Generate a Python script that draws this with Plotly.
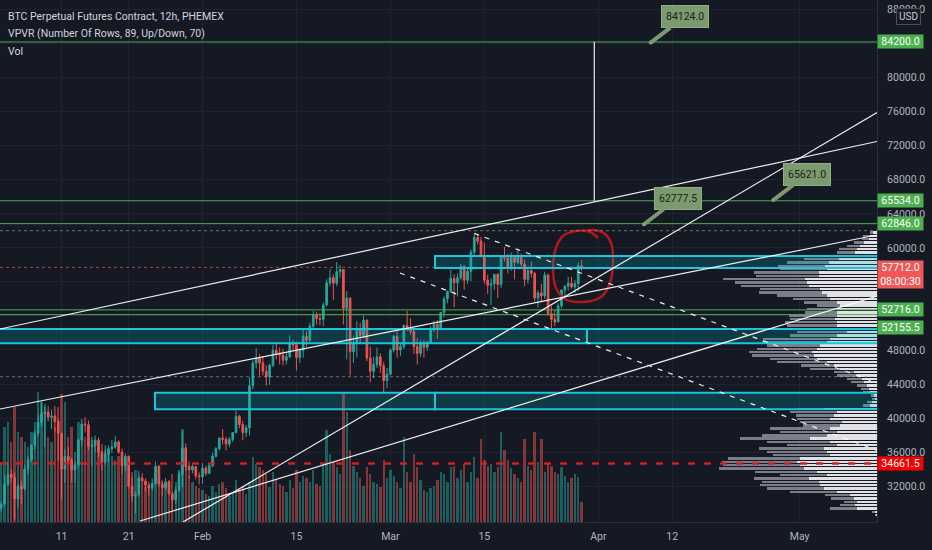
import pandas as pd
import plotly.graph_objects as go

# BTC perpetual (PHEMEX), 12h candles, 2 Jan 2021 00:00 -> 29 Mar 2021 12:00
# one line = one week (two candles per day)
opens = [
    29400, 29900, 32200, 33400, 33000, 30500, 32000, 31700, 34000, 35100, 36800, 38200, 39500, 40500,
    40700, 40100, 40250, 39600, 38200, 34000, 35500, 35000, 33900, 34500, 37400, 39300, 39200, 36700,
    36800, 37400, 36000, 34800, 35800, 36400, 36600, 37200, 36000, 34400, 35500, 32000, 30850, 31000,
    32950, 32600, 32100, 31800, 32300, 34300, 32250, 31800, 32500, 31100, 30400, 31500, 33400, 36500,
    34300, 33900, 34300, 33200, 33100, 34100, 33500, 34400, 35500, 36400, 37650, 37500, 36950, 37500,
    38300, 40200, 39250, 38300, 38850, 43800, 46450, 47100, 46500, 45500, 44850, 46200, 47950, 47600,
    47400, 46800, 47200, 48800, 48600, 47100, 47950, 49600, 49150, 50800, 52150, 51700, 51600, 53300,
    55900, 56500, 55850, 57200, 57450, 52900, 54100, 47800, 48850, 50500, 49700, 51500, 47050, 45500,
    46300, 47200, 46150, 44400, 45150, 48000, 49600, 48000, 48400, 50900, 50500, 50200, 48400, 47600,
    48800, 48300, 48900, 50400, 51000, 50600, 52400, 54000, 54900, 56400, 55900, 56500, 57800, 56200,
    57250, 59500, 61200, 60800, 59000, 56200, 55600, 55800, 56900, 55700, 58900, 58800, 57650, 58900,
    58300, 59000, 58100, 56300, 57350, 57000, 54100, 54700, 54350, 56800, 52300, 51600, 51300, 53200,
    55050, 55500, 55850, 55400, 55800, 57900,
]
highs = [
    30200, 33300, 34800, 34000, 33600, 32300, 32600, 34500, 35500, 36900, 38500, 40400, 41950, 41300,
    41400, 41000, 41400, 39900, 38200, 36300, 36600, 35300, 34900, 37600, 39900, 40100, 39700, 37800,
    37950, 37700, 36200, 36800, 36800, 37400, 37850, 37400, 36400, 35800, 35600, 33100, 31400, 33800,
    33500, 32900, 32500, 32900, 34900, 34500, 32700, 32950, 32600, 31300, 31900, 33800, 38500, 37000,
    34900, 34700, 34300, 33600, 34700, 34400, 34600, 35900, 36600, 37700, 38700, 37800, 37800, 38300,
    40900, 40400, 39700, 39200, 44800, 46800, 48200, 47500, 47300, 46200, 46400, 48600, 48900, 48300,
    48150, 47700, 49700, 49200, 49000, 48200, 50600, 50200, 51200, 52600, 52500, 52300, 53600, 56300,
    57500, 56900, 58350, 58000, 57500, 54900, 54200, 49600, 51400, 51200, 52050, 51600, 48400, 47200,
    48300, 47600, 46600, 45900, 48200, 49750, 50200, 48800, 51000, 52600, 51750, 50500, 49400, 49200,
    49200, 49100, 50800, 51400, 51500, 52400, 54300, 54900, 57400, 56900, 57000, 58100, 58000, 57600,
    59800, 61700, 61600, 61300, 60600, 56800, 56400, 56900, 57000, 58950, 60100, 59300, 59450, 59100,
    59900, 59300, 58600, 57800, 58400, 57200, 55000, 55800, 57200, 57000, 53200, 52700, 53500, 55100,
    55600, 56600, 56600, 56200, 58300, 58580,
]
lows = [
    29000, 29700, 32000, 32400, 28100, 29500, 29900, 31500, 33400, 34800, 36300, 37800, 39000, 36600,
    39600, 38700, 38400, 35000, 30400, 32400, 34500, 32500, 32400, 34200, 36700, 38300, 36200, 34400,
    36000, 35400, 33850, 34500, 34800, 35900, 36400, 35800, 33400, 33800, 31700, 30100, 28800, 30700,
    32200, 31400, 30900, 31500, 32100, 31900, 30850, 31500, 30900, 29250, 29900, 31300, 31900, 33800,
    32900, 33500, 32800, 32200, 32300, 33200, 33400, 34200, 35400, 36200, 36900, 36200, 36600, 37200,
    38200, 38800, 37400, 37800, 37950, 43400, 45800, 45000, 45000, 43800, 43900, 46000, 46900, 46300,
    46200, 46300, 47050, 47900, 45600, 46500, 47100, 48400, 48950, 50500, 51000, 50900, 50800, 53100,
    55500, 53900, 55500, 56500, 51000, 46900, 45000, 46500, 47100, 48700, 49400, 46700, 44200, 44700,
    45900, 45300, 43000, 43500, 45000, 47700, 47050, 47300, 48100, 50200, 49800, 47550, 46300, 47200,
    47100, 47900, 48900, 50100, 49300, 50300, 51850, 53500, 54700, 53050, 54300, 56200, 55100, 55800,
    56100, 59200, 60400, 59000, 55800, 54600, 53300, 55100, 54100, 55300, 58400, 57000, 57300, 56300,
    58100, 57800, 55500, 55800, 56500, 53700, 53000, 53600, 54000, 52000, 50400, 50800, 51300, 52900,
    53950, 55000, 55200, 54700, 54900, 57300,
]
closes = [
    29900, 32200, 33400, 33000, 30500, 32000, 31700, 34000, 35100, 36800, 38200, 39500, 40500, 40700,
    40100, 40250, 39600, 38200, 34000, 35500, 35000, 33900, 34500, 37400, 39300, 39200, 36700, 36800,
    37400, 36000, 34800, 35800, 36400, 36600, 37200, 36000, 34400, 35500, 32000, 30850, 31000, 32950,
    32600, 32100, 31800, 32300, 34300, 32250, 31800, 32500, 31100, 30400, 31500, 33400, 36500, 34300,
    33900, 34300, 33200, 33100, 34100, 33500, 34400, 35500, 36400, 37650, 37500, 36950, 37500, 38300,
    40200, 39250, 38300, 38850, 43800, 46450, 47100, 46500, 45500, 44850, 46200, 47950, 47600, 47400,
    46800, 47200, 48800, 48600, 47100, 47950, 49600, 49150, 50800, 52150, 51700, 51600, 53300, 55900,
    56500, 55850, 57200, 57450, 52900, 54100, 47800, 48850, 50500, 49700, 51500, 47050, 45500, 46300,
    47200, 46150, 44400, 45150, 48000, 49600, 48000, 48400, 50900, 50500, 50200, 48400, 47600, 48800,
    48300, 48900, 50400, 51000, 50600, 52400, 54000, 54900, 56400, 55900, 56500, 57800, 56200, 57250,
    59500, 61200, 60800, 59000, 56200, 55600, 55800, 56900, 55700, 58900, 58800, 57650, 58900, 58300,
    59000, 58100, 56300, 57350, 57000, 54100, 54700, 54350, 56800, 52300, 51600, 51300, 53200, 55050,
    55500, 55850, 55400, 55800, 57900, 57712,
]
volumes = [
    60, 95, 100, 80, 115, 90, 85, 80, 75, 90, 100, 130, 120, 118,
    85, 80, 95, 115, 128, 120, 85, 95, 70, 100, 98, 85, 80, 82,
    80, 75, 78, 72, 70, 66, 62, 66, 65, 58, 55, 50, 52, 46,
    38, 35, 36, 38, 48, 42, 40, 38, 42, 48, 40, 52, 93, 62,
    46, 40, 36, 34, 32, 28, 26, 36, 30, 38, 40, 34, 26, 30,
    42, 32, 36, 28, 40, 65, 58, 55, 52, 48, 35, 50, 42, 38,
    36, 30, 42, 34, 52, 40, 46, 44, 40, 52, 38, 36, 58, 92,
    68, 60, 55, 48, 130, 110, 72, 56, 50, 44, 36, 55, 48, 40,
    38, 35, 62, 44, 52, 46, 40, 34, 85, 50, 40, 68, 55, 42,
    32, 30, 34, 36, 42, 50, 48, 40, 55, 56, 44, 52, 58, 40,
    50, 65, 44, 83, 62, 56, 58, 50, 55, 90, 72, 62, 54, 48,
    44, 40, 83, 56, 52, 90, 60, 83, 50, 58, 56, 50, 48, 55,
    46, 40, 44, 48, 45, 20,
]

# VPVR rows, top row first (white = up part, gray = down part)
vp_up = [
    4, 7, 8, 13, 17, 20, 22, 33, 38, 48,
    52, 50, 58, 58, 72, 70, 68, 57, 55, 50,
    47, 40, 37, 40, 40, 40, 42, 40, 40, 30,
    30, 40, 47, 50, 57, 60, 65, 63, 60, 50,
    43, 37, 23, 20, 15, 13, 10, 8, 7, 3,
    2, 5, 7, 53, 40, 43, 47, 35, 37, 47,
    40, 50, 67, 47, 40, 53, 50, 47, 77, 80,
    77, 73, 60, 50, 68, 58, 57, 53, 40, 27,
    23, 20, 22, 20, 2, 1,
]
vp_down = [
    3, 7, 7, 10, 13, 18, 18, 27, 35, 42,
    47, 47, 65, 63, 82, 72, 68, 60, 63, 50,
    37, 33, 23, 30, 32, 48, 45, 52, 50, 33,
    50, 47, 67, 65, 53, 60, 63, 62, 47, 50,
    33, 30, 20, 20, 15, 13, 10, 8, 7, 3,
    3, 5, 7, 27, 47, 38, 33, 42, 37, 60,
    57, 65, 70, 63, 50, 65, 60, 57, 72, 75,
    77, 85, 62, 47, 55, 57, 60, 57, 47, 25,
    23, 13, 15, 27, 3, 1,
]
vp_high = 62000
vp_low = 28400

green_levels = [84200.0, 65534.0, 62846.0, 52716.0, 52155.5]
last_price = 57712.0
countdown = "08:00:30"
support_level = 34661.5
dotted_levels = [62018, 44860]

price_ticks = [32000, 36000, 40000, 44000, 48000, 52000, 56000, 60000,
               64000, 68000, 72000, 76000, 80000, 84000, 88000]
hidden_ticks = [52000, 56000, 84000]  # covered by the price badges

x_ticks = ["2021-01-11", "2021-01-21", "2021-02-01", "2021-02-15", "2021-03-01",
           "2021-03-15", "2021-04-01", "2021-04-12", "2021-05-01"]
x_labels = ["11", "21", "Feb", "15", "Mar", "15", "Apr", "12", "May"]

callout_t = ["2021-04-08 19:10", "2021-04-07 19:10", "2021-04-27 01:40"]
callout_p = [84124.0, 62777.5, 65621.0]

circle_t = ["2021-03-31 22:30", "2021-03-30 18:00", "2021-03-28 15:50", "2021-03-26 17:30",
            "2021-03-25 16:20", "2021-03-25 05:40", "2021-03-25 16:20", "2021-03-27 00:30",
            "2021-03-29 17:00", "2021-04-01 09:20", "2021-04-02 17:30", "2021-04-03 04:20",
            "2021-04-02 21:10", "2021-04-01 23:45", "2021-03-31 11:50", "2021-03-30 00:00"]
circle_p = [61161, 61866, 61984, 61396, 59986, 57635, 55285, 53992,
            53640, 54227, 55872, 58576, 60573, 61631, 62101, 61984]

X0 = "2021-01-01 19:40"
X1 = "2021-05-12 12:30"
FAR_L = "2020-12-20"
FAR_R = "2021-06-30"

BG = "#151924"
GRID = "#1f2330"
TEXT = "#b2b5be"
UP = "#26a69a"
DOWN = "#ef5350"
GREEN = "#4caf50"
CYAN = "#1fc4dc"
SAGE = "#7b9a6f"
FONT = "Roboto, Noto Sans, sans-serif"

times = pd.date_range("2021-01-02 00:00", periods=len(closes), freq="12h")
vol_colors = ["rgba(38,166,154,0.5)" if c >= o else "rgba(239,83,80,0.5)"
              for o, c in zip(opens, closes)]

n_rows = len(vp_up)
row_h = (vp_high - vp_low) / n_rows
vp_rows = [vp_high - row_h * (i + 0.5) for i in range(n_rows)]

fig = go.Figure()

fig.add_trace(go.Bar(x=times, y=volumes, marker=dict(color=vol_colors, line_width=0),
                     xaxis="x", yaxis="y2", hoverinfo="skip"))

fig.add_trace(go.Candlestick(
    x=times, open=opens, high=highs, low=lows, close=closes,
    increasing=dict(line=dict(color=UP, width=1), fillcolor=UP),
    decreasing=dict(line=dict(color=DOWN, width=1), fillcolor=DOWN),
    whiskerwidth=0, hoverinfo="skip",
))

fig.add_trace(go.Bar(x=vp_up, y=vp_rows, orientation="h", width=row_h * 0.72,
                     marker=dict(color="rgba(236,236,240,0.95)", line_width=0),
                     xaxis="x2", yaxis="y", hoverinfo="skip"))
fig.add_trace(go.Bar(x=vp_down, y=vp_rows, orientation="h", width=row_h * 0.72,
                     marker=dict(color="rgba(134,137,147,0.9)", line_width=0),
                     xaxis="x2", yaxis="y", hoverinfo="skip"))

# hand drawn circle
fig.add_trace(go.Scatter(x=circle_t, y=circle_p, mode="lines",
                         line=dict(color="#b3161c", width=2.5, shape="spline"),
                         hoverinfo="skip"))
# callout anchor dots
fig.add_trace(go.Scatter(x=callout_t, y=callout_p, mode="markers",
                         marker=dict(color="#9aa39a", size=4), hoverinfo="skip"))

shapes = []


def hline(y, color, width=1, dash="solid"):
    return dict(type="line", xref="paper", x0=0, x1=1, yref="y", y0=y, y1=y,
                line=dict(color=color, width=width, dash=dash), layer="above")


def seg(x0, y0, x1, y1, dash="solid", width=1.2):
    return dict(type="line", xref="x", yref="y", x0=x0, y0=y0, x1=x1, y1=y1,
                line=dict(color="rgba(255,255,255,0.92)", width=width, dash=dash), layer="above")


def zone(x0, x1, y0, y1):
    return dict(type="rect", xref="x", yref="y", x0=x0, x1=x1, y0=y0, y1=y1,
                fillcolor="rgba(0,188,212,0.2)", line=dict(color=CYAN, width=2), layer="above")


for lvl in dotted_levels:
    shapes.append(hline(lvl, "rgba(170,172,182,0.6)", 1, "dot"))
shapes.append(hline(last_price, "rgba(239,83,80,0.75)", 1, "dot"))

shapes += [
    zone("2021-03-07 15:30", FAR_R, 57650, 59050),
    zone(FAR_L, "2021-03-30 07:10", 48786, 50467),
    zone("2021-03-30 07:10", FAR_R, 48786, 50467),
    zone("2021-01-24 22:00", "2021-03-07 15:30", 41030, 42980),
    zone("2021-03-07 15:30", FAR_R, 41030, 42980),
]

for lvl in green_levels:
    shapes.append(hline(lvl, GREEN, 1))
shapes.append(hline(support_level, "#cc1f26", 2.5, "7px,9px"))

shapes += [
    seg(X0, 41065, X1, 61514),
    seg(X0, 50467, X1, 72502),
    seg("2021-01-29 02:15", 27785, X1, 75910),
    seg("2021-01-22 16:30", 27900, X1, 54345),
    seg("2021-03-13 12:00", 61700, X1, 44120, dash="5px,6px"),
    seg("2021-03-02 10:20", 57048, X1, 36200, dash="5px,6px"),
    seg("2021-03-31 09:20", 84200, "2021-03-31 09:20", 65534),
]

annotations = []

legend_lines = ["BTC Perpetual Futures Contract, 12h, PHEMEX",
                "VPVR (Number Of Rows, 89, Up/Down, 70)", "Vol"]
for i, txt in enumerate(legend_lines):
    annotations.append(dict(xref="paper", yref="paper", x=0, y=1, xanchor="left", yanchor="middle",
                            xshift=6, yshift=-16 - 17.8 * i, text=txt, showarrow=False,
                            font=dict(family=FONT, size=10.5, color="#d1d4dc")))


def badge(price, text, color, yshift=0, yanchor="middle"):
    return dict(xref="paper", x=1, xanchor="left", yref="y", y=price, yanchor=yanchor,
                yshift=yshift, text=text, showarrow=False, bgcolor=color, borderpad=0,
                width=45, align="center", font=dict(family=FONT, size=10.5, color="white"))


for lvl in green_levels:
    annotations.append(badge(lvl, f"{lvl:.1f}", GREEN, yshift=-13 if lvl == 52155.5 else 0))
annotations.append(badge(last_price, f"{last_price:.1f}<br>{countdown}", "#f05757",
                         yshift=7, yanchor="top"))
annotations.append(badge(support_level, f"{support_level:.1f}", "#f70000"))

for t, p in zip(callout_t, callout_p):
    annotations.append(dict(x=t, y=p, xref="x", yref="y", text=f"{p:.1f}", showarrow=True,
                            ax=34, ay=-26, arrowhead=0, arrowwidth=4, arrowcolor=SAGE,
                            bgcolor=SAGE, bordercolor="#8fae84", borderwidth=1, borderpad=4,
                            font=dict(family=FONT, size=10.5, color="#1a2418")))

annotations.append(dict(xref="paper", yref="paper", x=1, y=1, xanchor="center", yanchor="middle",
                        xshift=31, yshift=-16, text="USD", showarrow=False,
                        bgcolor="rgba(21,25,36,0.9)", bordercolor="#4a4e5a", borderwidth=1,
                        borderpad=2, font=dict(family=FONT, size=10, color="#c9ccd3")))

tick_text = ["" if v in hidden_ticks else f"{v:.1f}" for v in price_ticks]

fig.update_layout(
    width=932, height=550,
    margin=dict(l=0, r=55, t=0, b=28, autoexpand=False),
    paper_bgcolor=BG, plot_bgcolor=BG,
    showlegend=False, hovermode=False,
    barmode="stack", bargap=0.3,
    font=dict(family=FONT, size=10.5, color=TEXT),
    xaxis=dict(type="date", range=[X0, X1], rangeslider=dict(visible=False),
               tickvals=x_ticks, ticktext=x_labels, showgrid=True, gridcolor=GRID,
               zeroline=False, showline=True, linecolor="#2a2e39", ticks="",
               ticklabelstandoff=4, tickfont=dict(family=FONT, size=10.5, color=TEXT)),
    yaxis=dict(side="right", range=[27785, 89131], tickvals=price_ticks, ticktext=tick_text,
               showgrid=True, gridcolor=GRID, zeroline=False, showline=True,
               linecolor="#2a2e39", ticks="", ticklabelstandoff=7,
               tickfont=dict(family=FONT, size=10.5, color=TEXT)),
    yaxis2=dict(overlaying="y", range=[0, 522], visible=False),
    xaxis2=dict(overlaying="x", range=[877, 0], visible=False),
    shapes=shapes,
    annotations=annotations,
)

fig.write_html("out.html", config={"displayModeBar": False},
               post_script="document.body.style.margin='0';document.body.style.overflow='hidden';")
